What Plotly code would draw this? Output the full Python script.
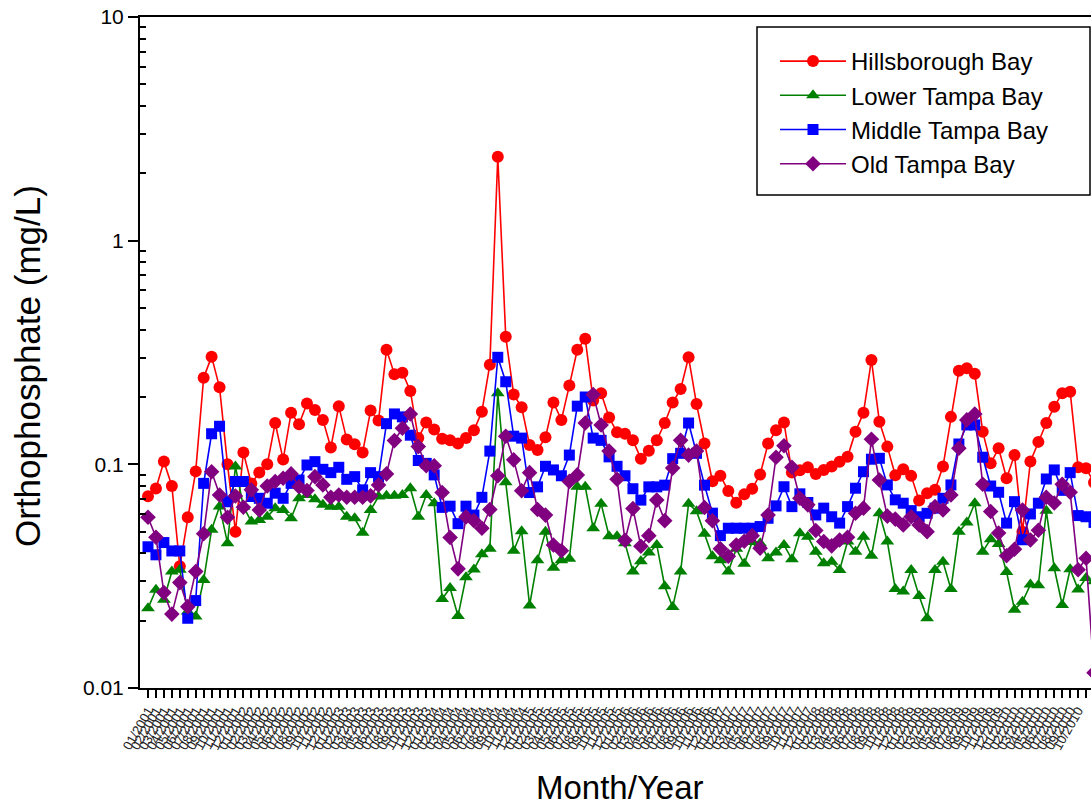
import plotly.graph_objects as go

# Months: 01/2001 .. 12/2010
months = [f"{m:02d}/{y}" for y in range(2001, 2011) for m in range(1, 13)]
idx = list(range(len(months)))

hillsborough = [
    0.072, 0.078, 0.103, 0.080, 0.035, 0.058, 0.093, 0.244, 0.303, 0.221,
    0.100, 0.050, 0.113, 0.082, 0.092, 0.100, 0.153, 0.105, 0.170, 0.151,
    0.187, 0.175, 0.158, 0.119, 0.182, 0.129, 0.123, 0.113, 0.174, 0.157,
    0.325, 0.253, 0.257, 0.213, 0.131, 0.154, 0.143, 0.130, 0.128, 0.124,
    0.131, 0.142, 0.172, 0.279, 2.37, 0.372, 0.205, 0.180, 0.122, 0.116,
    0.132, 0.189, 0.158, 0.225, 0.325, 0.364, 0.193, 0.208, 0.162, 0.139,
    0.137, 0.128, 0.106, 0.115, 0.128, 0.153, 0.189, 0.217, 0.301, 0.186,
    0.124, 0.084, 0.089, 0.076, 0.0674, 0.0734, 0.0778, 0.090, 0.124, 0.142,
    0.154, 0.092, 0.094, 0.097, 0.0906, 0.0944, 0.0977, 0.1026, 0.108, 0.140,
    0.170, 0.293, 0.155, 0.120, 0.0894, 0.095, 0.0888, 0.0689, 0.0743, 0.0769,
    0.0977, 0.163, 0.262, 0.269, 0.254, 0.140, 0.101, 0.118, 0.0867, 0.110,
    0.050, 0.103, 0.126, 0.153, 0.181, 0.208, 0.211, 0.097, 0.096, 0.083,
]
lower_tampa = [
    0.0227, 0.0275, 0.0248, 0.0332, 0.0338, 0.022, 0.0209, 0.0304, 0.051, 0.0648,
    0.0444, 0.0977, 0.0647, 0.0555, 0.0564, 0.0583, 0.0637, 0.0625, 0.0574, 0.0705,
    0.0729, 0.0698, 0.0659, 0.0647, 0.0647, 0.0583, 0.0574, 0.0495, 0.0625, 0.0718,
    0.0723, 0.0723, 0.0729, 0.0782, 0.0583, 0.0729, 0.067, 0.025, 0.028, 0.021,
    0.0313, 0.0339, 0.0396, 0.0419, 0.208, 0.0831, 0.0411, 0.0502, 0.0234, 0.0373,
    0.0499, 0.0345, 0.0373, 0.0378, 0.0793, 0.0793, 0.0518, 0.0667, 0.0477, 0.0477,
    0.0444, 0.0332, 0.0369, 0.0403, 0.0436, 0.0285, 0.0230, 0.0332, 0.0667, 0.0617,
    0.0489, 0.0388, 0.0373, 0.0332, 0.0419, 0.0359, 0.045, 0.0444, 0.038, 0.0403,
    0.0436, 0.0376, 0.0492, 0.0475, 0.0407, 0.0361, 0.0367, 0.0337, 0.0452, 0.0407,
    0.0475, 0.039, 0.0604, 0.0452, 0.0277, 0.027, 0.0337, 0.0258, 0.0205, 0.0337,
    0.0367, 0.0277, 0.050, 0.0549, 0.067, 0.0407, 0.0463, 0.044, 0.033, 0.0224,
    0.0243, 0.029, 0.0288, 0.062, 0.0343, 0.0235, 0.034, 0.0276, 0.031, 0.030,
]
middle_tampa = [
    0.0428, 0.0394, 0.0447, 0.041, 0.041, 0.0205, 0.0246, 0.0822, 0.137, 0.148,
    0.068, 0.0838, 0.0838, 0.0718, 0.0705, 0.067, 0.0743, 0.0705, 0.0822, 0.0851,
    0.0993, 0.1028, 0.095, 0.0918, 0.097, 0.0857, 0.0881, 0.0769, 0.0918, 0.0881,
    0.152, 0.168, 0.163, 0.135, 0.104, 0.101, 0.0897, 0.0642, 0.065, 0.0543,
    0.065, 0.0593, 0.0712, 0.1146, 0.301, 0.234, 0.1336, 0.131, 0.0748, 0.0793,
    0.098, 0.0944, 0.0889, 0.110, 0.182, 0.200, 0.131, 0.128, 0.108, 0.098,
    0.0889, 0.0778, 0.0692, 0.0793, 0.0793, 0.0807, 0.106, 0.112, 0.153, 0.112,
    0.0807, 0.0605, 0.048, 0.0518, 0.0518, 0.0518, 0.0518, 0.0527, 0.0574, 0.0652,
    0.0794, 0.0647, 0.0738, 0.0675, 0.0594, 0.0637, 0.0583, 0.0546, 0.0647, 0.0782,
    0.0927, 0.1054, 0.1064, 0.0809, 0.0694, 0.067, 0.0621, 0.0583, 0.0604, 0.0637,
    0.0705, 0.0809, 0.1233, 0.150, 0.150, 0.1076, 0.080, 0.075, 0.0546, 0.0681,
    0.046, 0.060, 0.067, 0.086, 0.0944, 0.0765, 0.0918, 0.059, 0.0583, 0.055,
]
old_tampa = [
    0.058, 0.0472, 0.0267, 0.0214, 0.0296, 0.0231, 0.0332, 0.0489, 0.0927, 0.0729,
    0.058, 0.0722, 0.0643, 0.0769, 0.0625, 0.080, 0.0838, 0.0867, 0.0906, 0.0794,
    0.0764, 0.0881, 0.0809, 0.0713, 0.0729, 0.0713, 0.0713, 0.0713, 0.0723, 0.0809,
    0.0906, 0.1277, 0.145, 0.168, 0.120, 0.0985, 0.0985, 0.0748, 0.0471, 0.0341,
    0.0582, 0.056, 0.0518, 0.0628, 0.0889, 0.1336, 0.1047, 0.0762, 0.0918, 0.0628,
    0.0593, 0.0436, 0.0411, 0.0839, 0.0897, 0.153, 0.205, 0.150, 0.1146, 0.0857,
    0.0458, 0.0634, 0.043, 0.048, 0.0692, 0.056, 0.0962, 0.128, 0.110, 0.1146,
    0.0641, 0.056, 0.0419, 0.0388, 0.0436, 0.0453, 0.048, 0.0422, 0.0594, 0.1076,
    0.121, 0.097, 0.0705, 0.0659, 0.0506, 0.0452, 0.0432, 0.0459, 0.0472, 0.0604,
    0.0637, 0.1294, 0.0851, 0.0587, 0.0569, 0.0536, 0.0583, 0.0536, 0.050, 0.0647,
    0.0625, 0.0729, 0.118, 0.158, 0.168, 0.0815, 0.0615, 0.0493, 0.039, 0.0417,
    0.0625, 0.0459, 0.0507, 0.0713, 0.0672, 0.0815, 0.075, 0.0338, 0.038, 0.0117,
]

y_tickvals = [0.01, 0.1, 1, 10]
y_ticktext = ["0.01", "0.1", "1", "10"]
y_minor = [m * 10 ** e for e in (-2, -1, 0) for m in range(2, 10)]

series = [
    ("Hillsborough Bay", hillsborough, "#ff0000", "circle", 12),
    ("Lower Tampa Bay", lower_tampa, "#008000", "triangle-up", 12),
    ("Middle Tampa Bay", middle_tampa, "#0000ff", "square", 11),
    ("Old Tampa Bay", old_tampa, "#800080", "diamond", 12),
]

fig = go.Figure()
for name, vals, color, sym, size in series:
    fig.add_trace(go.Scatter(
        x=idx, y=vals, name=name, mode="lines+markers",
        line=dict(color=color, width=1.6),
        marker=dict(color=color, symbol=sym, size=size, line=dict(width=0)),
        cliponaxis=True,
    ))

W, H = 1091, 807
L, R, T, B = 140, 0, 17, 119
pw, ph = W - L - R, H - T - B

def px_x(p):
    return (p - L) / pw

def px_y(p):
    return (H - B - p) / ph

font_family = "Liberation Sans, Arial, sans-serif"

fig.update_layout(
    width=W, height=H,
    margin=dict(l=L, r=R, t=T, b=B, pad=0),
    paper_bgcolor="white", plot_bgcolor="white",
    font=dict(family=font_family, color="black"),
    showlegend=True,
    legend=dict(
        x=px_x(775), y=px_y(39), xanchor="left", yanchor="top",
        bgcolor="rgba(0,0,0,0)", borderwidth=0,
        font=dict(size=24, family=font_family, color="black"),
        itemwidth=66, tracegroupgap=0,
    ),
    xaxis=dict(
        range=[-1.006, 118.62], tickmode="array", tickvals=idx, ticktext=months,
        tickangle=-60, tickfont=dict(size=13, color="#222222"),
        ticks="outside", ticklen=8, tickwidth=1.5, tickcolor="black",
        showline=True, linewidth=2, linecolor="black", mirror=True,
        showgrid=False, zeroline=False,
    ),
    yaxis=dict(
        type="log", range=[-2, 1], tickmode="array",
        tickvals=y_tickvals, ticktext=y_ticktext,
        tickfont=dict(size=21, color="black"),
        ticks="outside", ticklen=10, tickwidth=2, tickcolor="black",
        minor=dict(tickmode="array", tickvals=y_minor, ticks="inside",
                   ticklen=6, tickwidth=1.5, tickcolor="black", showgrid=False),
        showline=True, linewidth=2, linecolor="black", mirror=False,
        showgrid=False, zeroline=False,
    ),
    shapes=[dict(
        type="rect", xref="paper", yref="paper",
        x0=px_x(757), x1=px_x(1090), y0=px_y(195), y1=px_y(27),
        line=dict(color="black", width=1.5), fillcolor="rgba(0,0,0,0)",
    )],
    annotations=[
        dict(text="Month/Year", xref="paper", yref="paper",
             x=px_x(620), y=px_y(787), xanchor="center", yanchor="middle",
             showarrow=False, font=dict(size=33, family=font_family, color="black")),
        dict(text="Orthophosphate (mg/L)", xref="paper", yref="paper",
             x=px_x(27), y=px_y(366), xanchor="center", yanchor="middle",
             textangle=-90, showarrow=False,
             font=dict(size=35, family=font_family, color="black")),
    ],
)

fig.write_html("out.html")
